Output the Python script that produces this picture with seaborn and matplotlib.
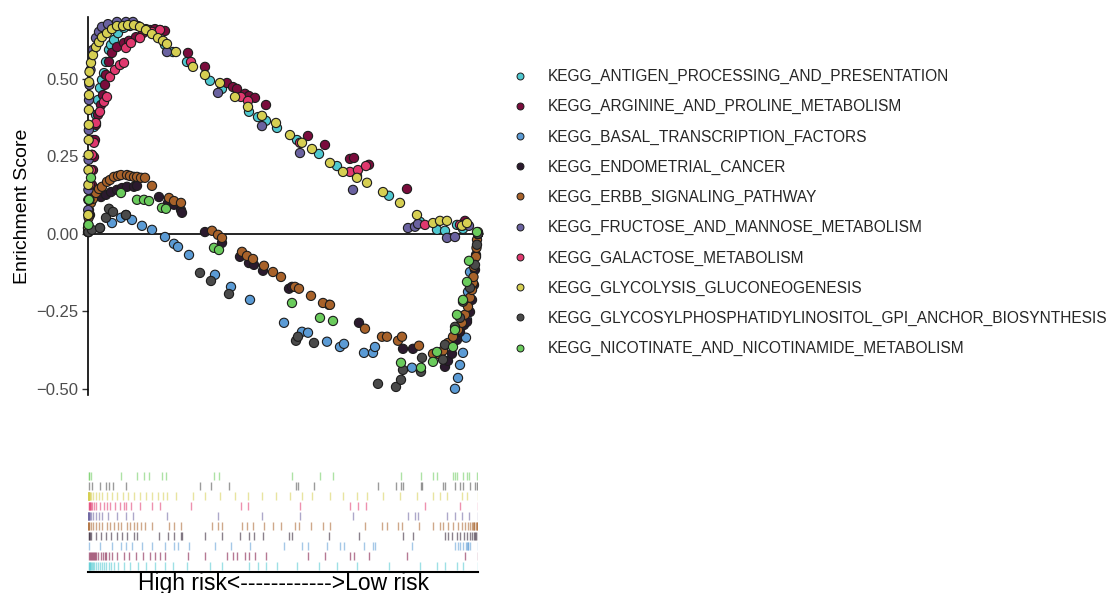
import matplotlib
matplotlib.use("Agg")
import matplotlib.pyplot as plt
import pandas as pd
import seaborn as sns
from matplotlib.lines import Line2D

# ============================
# Datos (rango en la lista ordenada, score acumulado en cada gen del set)
# ============================

set_names = [
    "KEGG_ANTIGEN_PROCESSING_AND_PRESENTATION",
    "KEGG_ARGININE_AND_PROLINE_METABOLISM",
    "KEGG_BASAL_TRANSCRIPTION_FACTORS",
    "KEGG_ENDOMETRIAL_CANCER",
    "KEGG_ERBB_SIGNALING_PATHWAY",
    "KEGG_FRUCTOSE_AND_MANNOSE_METABOLISM",
    "KEGG_GALACTOSE_METABOLISM",
    "KEGG_GLYCOLYSIS_GLUCONEOGENESIS",
    "KEGG_GLYCOSYLPHOSPHATIDYLINOSITOL_GPI_ANCHOR_BIOSYNTHESIS",
    "KEGG_NICOTINATE_AND_NICOTINAMIDE_METABOLISM",
]
set_colors = [
    "#4fc8d0", "#7a0c3c", "#5b9bd5", "#2b1a2e", "#a8622a",
    "#6a62a0", "#e0386e", "#d6cf52", "#4a4a4a", "#6acb5c",
]
n_genes = 19500

antigen_rank = [25, 50, 75, 100, 150, 200, 250, 300, 400, 500, 600, 700, 800, 900, 1050, 1150,
                1300, 1500, 1800, 2100, 2500, 2900, 3350, 3850, 4250, 4950, 6100, 6700, 8050, 8500,
                8900, 9450, 10450, 11550, 12450, 13450, 15050, 16600, 17450, 17850, 18450, 18750, 19500]
antigen_es = [0.006, 0.061, 0.110, 0.158, 0.206, 0.255, 0.303, 0.345, 0.384, 0.432, 0.471, 0.497,
              0.519, 0.555, 0.594, 0.610, 0.626, 0.648, 0.665, 0.671, 0.671, 0.661, 0.645, 0.610,
              0.587, 0.555, 0.494, 0.468, 0.394, 0.377, 0.365, 0.342, 0.303, 0.258, 0.219, 0.187,
              0.123, 0.039, 0.013, 0.010, 0.029, 0.016, 0.0]

arginine_rank = [50, 100, 150, 200, 250, 300, 350, 400, 500, 650, 750, 850, 900, 1050, 1200, 1450,
                 1800, 2050, 2400, 2750, 3100, 3350, 3600, 3850, 5000, 5850, 6950, 7250, 7450, 7850,
                 8050, 8350, 8900, 11000, 11850, 13100, 13300, 14050, 15950, 18850, 19500]
arginine_es = [0.013, 0.061, 0.110, 0.158, 0.206, 0.248, 0.303, 0.352, 0.384, 0.416, 0.448, 0.481,
               0.513, 0.555, 0.584, 0.603, 0.616, 0.623, 0.635, 0.648, 0.658, 0.661, 0.658, 0.655,
               0.584, 0.539, 0.487, 0.474, 0.468, 0.452, 0.445, 0.439, 0.416, 0.316, 0.287, 0.242,
               0.245, 0.223, 0.145, 0.042, 0.0]

basal_rank = [25, 600, 1200, 1650, 1900, 2200, 2700, 3200, 3850, 4300, 4500, 5050, 6350, 7150, 8100,
              9800, 10700, 11000, 11950, 12600, 12800, 13800, 14250, 14350, 16200, 18350, 18500,
              18600, 18750, 18900, 18950, 18975, 19000, 19100, 19500]
basal_es = [0.006, 0.019, 0.035, 0.052, 0.061, 0.045, 0.026, 0.013, -0.010, -0.032, -0.042, -0.068,
            -0.132, -0.171, -0.213, -0.287, -0.316, -0.319, -0.348, -0.365, -0.355, -0.384, -0.384,
            -0.365, -0.432, -0.500, -0.465, -0.423, -0.384, -0.335, -0.277, -0.229, -0.187, -0.123, 0.0]

endometrial_rank = [25, 50, 100, 150, 400, 650, 900, 1150, 1450, 1700, 1950, 2300, 2450, 3550, 4000,
                    4300, 4650, 4700, 5850, 6700, 7600, 8050, 8300, 8750, 10050, 10200, 12050, 13550,
                    15750, 16250, 17850, 18000, 18200, 18450, 18600, 18800, 18950, 19100, 19200, 19300,
                    19350, 19400, 19500]
endometrial_es = [0.013, 0.061, 0.110, 0.135, 0.126, 0.119, 0.126, 0.135, 0.142, 0.148, 0.152, 0.152,
                  0.155, 0.119, 0.100, 0.094, 0.077, 0.068, 0.006, -0.029, -0.074, -0.094, -0.100,
                  -0.119, -0.177, -0.171, -0.229, -0.287, -0.371, -0.371, -0.429, -0.410, -0.387,
                  -0.342, -0.316, -0.294, -0.284, -0.252, -0.213, -0.165, -0.116, -0.068, 0.0]

erbb_rank = [0, 15, 30, 50, 150, 250, 400, 550, 700, 950, 1100, 1300, 1500, 1650, 1950, 2100, 2300,
             2450, 2650, 2850, 3200, 4050, 4300, 4650, 6200, 6500, 6700, 7700, 7950, 8250, 8800, 9250,
             9650, 10350, 10550, 11150, 11750, 12100, 13850, 14700, 14950, 15500, 15700, 16550, 17250,
             17600, 17750, 18000, 18250, 18500, 18700, 18850, 19000, 19100, 19200, 19250, 19275,
             19300, 19400, 19425, 19450, 19500]
erbb_es = [0.006, 0.029, 0.052, 0.077, 0.100, 0.113, 0.132, 0.145, 0.152, 0.168, 0.174, 0.184, 0.187,
           0.190, 0.190, 0.187, 0.184, 0.184, 0.181, 0.181, 0.155, 0.116, 0.106, 0.100, 0.010, -0.003,
           -0.013, -0.058, -0.071, -0.081, -0.103, -0.123, -0.139, -0.171, -0.177, -0.200, -0.223,
           -0.229, -0.306, -0.332, -0.332, -0.345, -0.332, -0.361, -0.387, -0.390, -0.377, -0.352,
           -0.332, -0.310, -0.287, -0.261, -0.235, -0.206, -0.181, -0.158, -0.139, -0.106, -0.074,
           -0.045, -0.019, 0.0]

fructose_rank = [0, 10, 20, 30, 40, 50, 75, 125, 250, 400, 550, 700, 1000, 1450, 1900, 2250, 3950,
                 6500, 8700, 10600, 13250, 16000, 16350, 16500, 17950, 18350, 18700, 19050, 19500]
fructose_es = [0.019, 0.077, 0.142, 0.239, 0.335, 0.432, 0.481, 0.529, 0.594, 0.632, 0.652, 0.668,
               0.677, 0.684, 0.684, 0.684, 0.587, 0.455, 0.348, 0.261, 0.142, 0.019, 0.023, 0.032,
               -0.013, -0.010, 0.026, 0.026, 0.0]

galactose_rank = [25, 50, 75, 100, 150, 200, 300, 400, 600, 800, 950, 1100, 1350, 1600, 1800, 1900,
                  2150, 2600, 3200, 3600, 5150, 7650, 8000, 10600, 13100, 13500, 13900, 16850, 18600,
                  19500]
galactose_es = [0.013, 0.061, 0.110, 0.158, 0.206, 0.255, 0.294, 0.358, 0.394, 0.426, 0.442, 0.506,
                0.529, 0.545, 0.552, 0.600, 0.616, 0.632, 0.652, 0.658, 0.555, 0.442, 0.429, 0.294,
                0.200, 0.206, 0.219, 0.029, 0.029, 0.0]

glycolysis_rank = [5, 10, 15, 20, 25, 30, 35, 40, 45, 50, 55, 75, 150, 250, 400, 550, 700, 950,
                   1200, 1450, 1750, 2000, 2300, 2600, 2900, 3200, 3500, 3750, 3950, 4400, 5250, 5850,
                   6600, 7350, 8000, 8700, 9400, 10100, 10700, 11200, 12100, 12750, 13450, 13950,
                   14750, 15600, 16450, 17250, 17600, 17950, 18700, 18950, 19500]
glycolysis_es = [0.019, 0.061, 0.110, 0.158, 0.206, 0.255, 0.303, 0.352, 0.400, 0.448, 0.490, 0.523,
                 0.552, 0.577, 0.603, 0.619, 0.635, 0.648, 0.661, 0.671, 0.671, 0.674, 0.674, 0.668,
                 0.658, 0.645, 0.632, 0.623, 0.613, 0.587, 0.539, 0.513, 0.487, 0.442, 0.410, 0.381,
                 0.358, 0.319, 0.294, 0.274, 0.229, 0.200, 0.181, 0.165, 0.135, 0.100, 0.061, 0.035,
                 0.042, 0.042, 0.026, 0.035, 0.006]

gpi_rank = [25, 200, 600, 900, 1050, 1250, 1900, 5600, 6150, 7050, 10400, 10500, 11300, 14500, 15400,
            15650, 15750, 16650, 16700, 17750, 17850, 18350, 18600, 18750, 19100, 19350, 19450, 19500]
gpi_es = [0.006, 0.013, 0.019, 0.052, 0.081, 0.071, 0.061, -0.126, -0.152, -0.194, -0.345, -0.332,
          -0.352, -0.484, -0.494, -0.471, -0.439, -0.445, -0.400, -0.406, -0.358, -0.300, -0.271,
          -0.219, -0.174, -0.100, -0.035, 0.0]

nicotinate_rank = [25, 50, 150, 1650, 2450, 2800, 3050, 3700, 3900, 6300, 6550, 10200, 11600, 12250,
                   15650, 16650, 17250, 17450, 18250, 18350, 18450, 18750, 18950, 19050, 19450]
nicotinate_es = [0.029, 0.110, 0.181, 0.132, 0.110, 0.110, 0.106, 0.084, 0.081, -0.045, -0.052,
                 -0.223, -0.271, -0.281, -0.416, -0.432, -0.413, -0.381, -0.365, -0.310, -0.261,
                 -0.213, -0.155, -0.087, 0.006]

set_ranks = [antigen_rank, arginine_rank, basal_rank, endometrial_rank, erbb_rank,
             fructose_rank, galactose_rank, glycolysis_rank, gpi_rank, nicotinate_rank]
set_scores = [antigen_es, arginine_es, basal_es, endometrial_es, erbb_es,
              fructose_es, galactose_es, glycolysis_es, gpi_es, nicotinate_es]

df = pd.concat(
    [pd.DataFrame({"rank": r, "es": e, "set": n}) for n, r, e in zip(set_names, set_ranks, set_scores)],
    ignore_index=True,
)
palette = dict(zip(set_names, set_colors))

# ============================
# Figura
# ============================
sns.set_theme(style="white")
plt.rcParams["font.family"] = ["Liberation Sans", "DejaVu Sans"]

W, H = 1114, 593
fig = plt.figure(figsize=(W / 100, H / 100), dpi=100)
ax = fig.add_axes([88 / W, 1 - 395 / H, 390 / W, 378 / H])
rug = fig.add_axes([88 / W, 1 - 572 / H, 390 / W, 102 / H])

ax.axhline(0, color="black", lw=1.2, zorder=1)
sns.scatterplot(data=df, x="rank", y="es", hue="set", palette=palette, s=44,
                edgecolor="#1c1c1c", linewidth=0.8, legend=False, ax=ax, zorder=3, clip_on=False)

ax.set_xlim(0, n_genes)
ax.set_ylim(-0.52, 0.70)
ax.set_xticks([])
ax.set_yticks([-0.5, -0.25, 0, 0.25, 0.5])
ax.set_yticklabels(["\u22120.50", "\u22120.25", "0.00", "0.25", "0.50"])
ax.tick_params(axis="y", left=True, length=4, width=1, color="#333333", labelsize=12,
               labelcolor="#4d4d4d", pad=3)
for s in ["top", "right", "bottom"]:
    ax.spines[s].set_visible(False)
ax.spines["left"].set_color("black")
ax.spines["left"].set_linewidth(1.2)
ax.set_xlabel("")
ax.set_ylabel("Enrichment Score", fontsize=14, color="black", labelpad=4)

# Rug de genes por set
for i, (r, c) in enumerate(zip(set_ranks, set_colors)):
    rug.vlines(r, i + 0.05, i + 0.85, color=c, lw=1.0, alpha=0.55)
rug.set_xlim(0, n_genes)
rug.set_ylim(-0.2, 10.1)
rug.set_xticks([])
rug.set_yticks([])
for s in ["top", "right", "left"]:
    rug.spines[s].set_visible(False)
rug.spines["bottom"].set_color("black")
rug.spines["bottom"].set_linewidth(1.5)
rug.set_xlabel("High risk<------------>Low risk", fontsize=16.5, color="black", labelpad=0)

# Leyenda
handles = [Line2D([], [], ls="", marker="o", markersize=5, markerfacecolor=c,
                  markeredgecolor="#1c1c1c", markeredgewidth=0.7) for c in set_colors]
fig.legend(handles, set_names, loc="upper left", bbox_to_anchor=(512 / W, 1 - 69 / H),
           frameon=False, fontsize=11.2, handlelength=1.0, handletextpad=1.3,
           labelspacing=0.97, borderpad=0, borderaxespad=0)

fig.savefig("out.png", dpi=100)
